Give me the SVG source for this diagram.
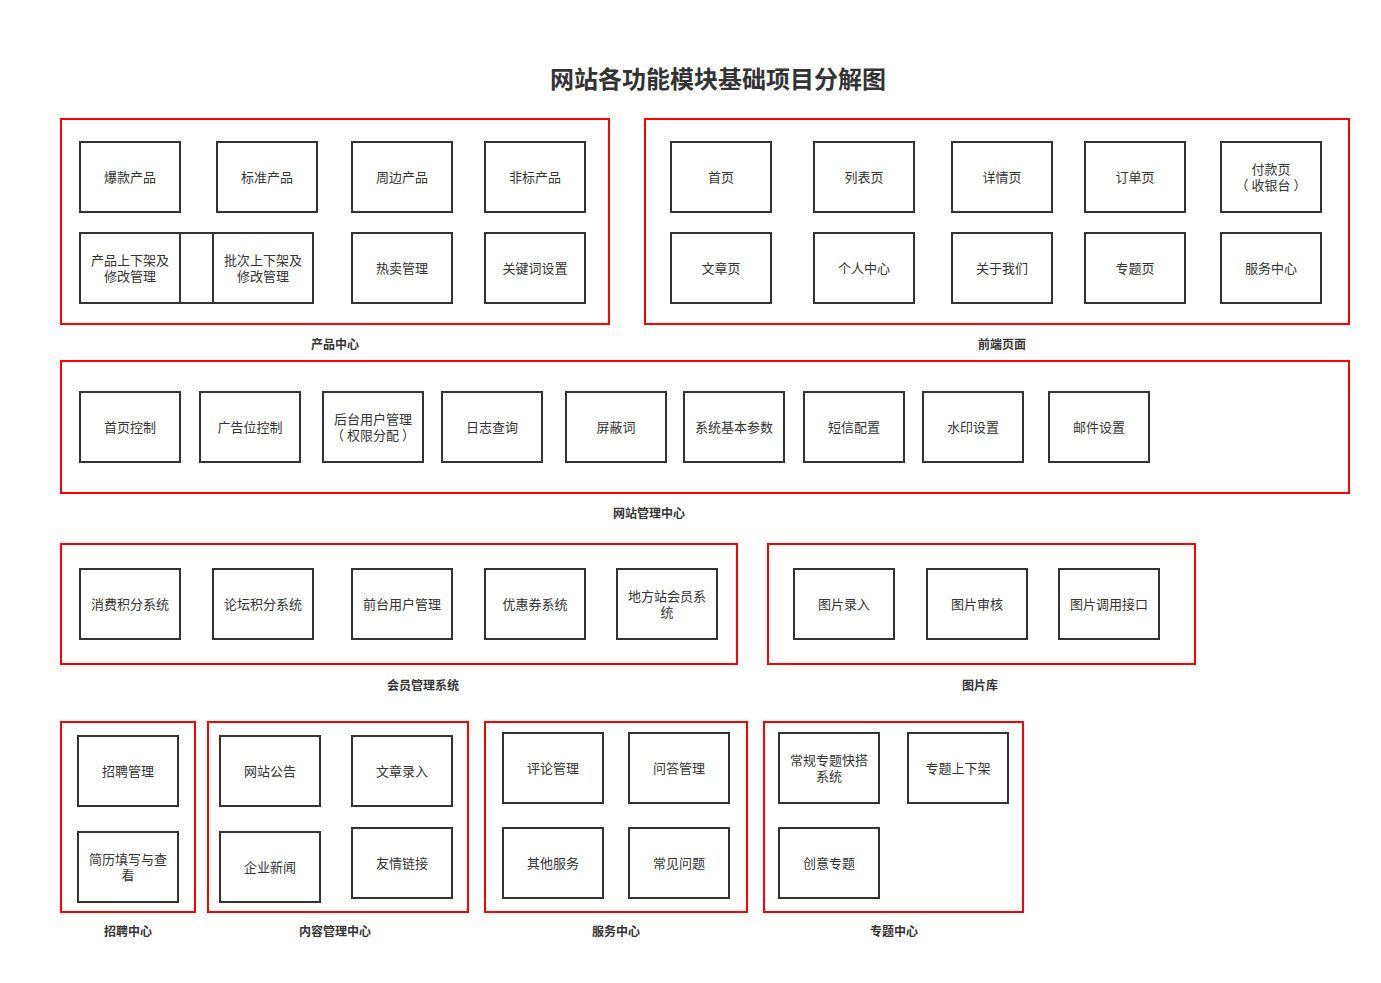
<svg xmlns="http://www.w3.org/2000/svg" width="1381" height="983" viewBox="0 0 1381 983">
<style>
.c{fill:none;stroke:#ff0000;stroke-width:2}
.b{fill:#fff;stroke:#333;stroke-width:2}
.t{font-family:"Noto Sans CJK SC","Noto Sans",sans-serif;font-size:13px;fill:#333;text-anchor:middle;dominant-baseline:central}
.l{font-family:"Noto Sans CJK SC","Noto Sans",sans-serif;font-size:12px;font-weight:bold;fill:#333;text-anchor:middle;dominant-baseline:central}
.h{font-family:"Noto Sans CJK SC","Noto Sans",sans-serif;font-size:24px;font-weight:bold;fill:#333;text-anchor:middle;dominant-baseline:central}
</style>
<rect width="1381" height="983" fill="#fff"/>
<text class="h" x="718" y="77">网站各功能模块基础项目分解图</text>

<g id="grp-product">
<rect class="c" x="61" y="119" width="548" height="205"/>
<text class="l" x="335" y="343">产品中心</text>
<g id="n-baokuan"><rect class="b" x="80" y="142" width="100" height="70"/><text class="t" x="130" y="176">爆款产品</text></g>
<g id="n-biaozhun"><rect class="b" x="217" y="142" width="100" height="70"/><text class="t" x="267" y="176">标准产品</text></g>
<g id="n-zhoubian"><rect class="b" x="352" y="142" width="100" height="70"/><text class="t" x="402" y="176">周边产品</text></g>
<g id="n-feibiao"><rect class="b" x="485" y="142" width="100" height="70"/><text class="t" x="535" y="176">非标产品</text></g>
<g id="n-blank"><rect class="b" x="180" y="233" width="33" height="70"/></g>
<g id="n-shangxia"><rect class="b" x="80" y="233" width="100" height="70"/><text class="t" x="130" y="259"><tspan x="130" y="259">产品上下架及</tspan><tspan x="130" y="275">修改管理</tspan></text></g>
<g id="n-piliang"><rect class="b" x="213" y="233" width="100" height="70"/><text class="t" x="263" y="259"><tspan x="263" y="259">批次上下架及</tspan><tspan x="263" y="275">修改管理</tspan></text></g>
<g id="n-remai"><rect class="b" x="352" y="233" width="100" height="70"/><text class="t" x="402" y="267">热卖管理</text></g>
<g id="n-guanjianci"><rect class="b" x="485" y="233" width="100" height="70"/><text class="t" x="535" y="267">关键词设置</text></g>
</g>

<g id="grp-front">
<rect class="c" x="645" y="119" width="704" height="205"/>
<text class="l" x="1002" y="343">前端页面</text>
<g id="n-shouye"><rect class="b" x="671" y="142" width="100" height="70"/><text class="t" x="721" y="176">首页</text></g>
<g id="n-liebiao"><rect class="b" x="814" y="142" width="100" height="70"/><text class="t" x="864" y="176">列表页</text></g>
<g id="n-xiangqing"><rect class="b" x="952" y="142" width="100" height="70"/><text class="t" x="1002" y="176">详情页</text></g>
<g id="n-dingdan"><rect class="b" x="1085" y="142" width="100" height="70"/><text class="t" x="1135" y="176">订单页</text></g>
<g id="n-fukuan"><rect class="b" x="1221" y="142" width="100" height="70"/><text class="t" x="1271" y="168"><tspan x="1271" y="168">付款页</tspan><tspan x="1271" y="184">（ 收银台 ）</tspan></text></g>
<g id="n-wenzhang"><rect class="b" x="671" y="233" width="100" height="70"/><text class="t" x="721" y="267">文章页</text></g>
<g id="n-geren"><rect class="b" x="814" y="233" width="100" height="70"/><text class="t" x="864" y="267">个人中心</text></g>
<g id="n-guanyu"><rect class="b" x="952" y="233" width="100" height="70"/><text class="t" x="1002" y="267">关于我们</text></g>
<g id="n-zhuanti"><rect class="b" x="1085" y="233" width="100" height="70"/><text class="t" x="1135" y="267">专题页</text></g>
<g id="n-fuwu"><rect class="b" x="1221" y="233" width="100" height="70"/><text class="t" x="1271" y="267">服务中心</text></g>
</g>

<g id="grp-admin">
<rect class="c" x="61" y="361" width="1288" height="132"/>
<text class="l" x="649" y="512">网站管理中心</text>
<g id="n-sykz"><rect class="b" x="80" y="392" width="100" height="70"/><text class="t" x="130" y="426">首页控制</text></g>
<g id="n-ggw"><rect class="b" x="200" y="392" width="100" height="70"/><text class="t" x="250" y="426">广告位控制</text></g>
<g id="n-htyh"><rect class="b" x="323" y="392" width="100" height="70"/><text class="t" x="373" y="418"><tspan x="373" y="418">后台用户管理</tspan><tspan x="373" y="434">（ 权限分配 ）</tspan></text></g>
<g id="n-rizhi"><rect class="b" x="442" y="392" width="100" height="70"/><text class="t" x="492" y="426">日志查询</text></g>
<g id="n-pingbi"><rect class="b" x="566" y="392" width="100" height="70"/><text class="t" x="616" y="426">屏蔽词</text></g>
<g id="n-xitong"><rect class="b" x="684" y="392" width="100" height="70"/><text class="t" x="734" y="426">系统基本参数</text></g>
<g id="n-duanxin"><rect class="b" x="804" y="392" width="100" height="70"/><text class="t" x="854" y="426">短信配置</text></g>
<g id="n-shuiyin"><rect class="b" x="923" y="392" width="100" height="70"/><text class="t" x="973" y="426">水印设置</text></g>
<g id="n-youjian"><rect class="b" x="1049" y="392" width="100" height="70"/><text class="t" x="1099" y="426">邮件设置</text></g>
</g>

<g id="grp-member">
<rect class="c" x="61" y="544" width="676" height="120"/>
<text class="l" x="423" y="684">会员管理系统</text>
<g id="n-xiaofei"><rect class="b" x="80" y="569" width="100" height="70"/><text class="t" x="130" y="603">消费积分系统</text></g>
<g id="n-luntan"><rect class="b" x="213" y="569" width="100" height="70"/><text class="t" x="263" y="603">论坛积分系统</text></g>
<g id="n-qiantai"><rect class="b" x="352" y="569" width="100" height="70"/><text class="t" x="402" y="603">前台用户管理</text></g>
<g id="n-youhui"><rect class="b" x="485" y="569" width="100" height="70"/><text class="t" x="535" y="603">优惠券系统</text></g>
<g id="n-difang"><rect class="b" x="617" y="569" width="100" height="70"/><text class="t" x="667" y="595"><tspan x="667" y="595">地方站会员系</tspan><tspan x="667" y="611">统</tspan></text></g>
</g>

<g id="grp-image">
<rect class="c" x="768" y="544" width="427" height="120"/>
<text class="l" x="980" y="684">图片库</text>
<g id="n-tplr"><rect class="b" x="794" y="569" width="100" height="70"/><text class="t" x="844" y="603">图片录入</text></g>
<g id="n-tpsh"><rect class="b" x="927" y="569" width="100" height="70"/><text class="t" x="977" y="603">图片审核</text></g>
<g id="n-tpdy"><rect class="b" x="1059" y="569" width="100" height="70"/><text class="t" x="1109" y="603">图片调用接口</text></g>
</g>

<g id="grp-recruit">
<rect class="c" x="61" y="722" width="134" height="190"/>
<text class="l" x="128" y="930">招聘中心</text>
<g id="n-zhaopin"><rect class="b" x="78" y="736" width="100" height="70"/><text class="t" x="128" y="770">招聘管理</text></g>
<g id="n-jianli"><rect class="b" x="78" y="832" width="100" height="70"/><text class="t" x="128" y="858"><tspan x="128" y="858">简历填写与查</tspan><tspan x="128" y="874">看</tspan></text></g>
</g>

<g id="grp-content">
<rect class="c" x="208" y="722" width="260" height="190"/>
<text class="l" x="335" y="930">内容管理中心</text>
<g id="n-gonggao"><rect class="b" x="220" y="736" width="100" height="70"/><text class="t" x="270" y="770">网站公告</text></g>
<g id="n-wzlr"><rect class="b" x="352" y="736" width="100" height="70"/><text class="t" x="402" y="770">文章录入</text></g>
<g id="n-qiye"><rect class="b" x="220" y="832" width="100" height="70"/><text class="t" x="270" y="866">企业新闻</text></g>
<g id="n-youqing"><rect class="b" x="352" y="828" width="100" height="70"/><text class="t" x="402" y="862">友情链接</text></g>
</g>

<g id="grp-service">
<rect class="c" x="485" y="722" width="262" height="190"/>
<text class="l" x="616" y="930">服务中心</text>
<g id="n-pinglun"><rect class="b" x="503" y="733" width="100" height="70"/><text class="t" x="553" y="767">评论管理</text></g>
<g id="n-wenda"><rect class="b" x="629" y="733" width="100" height="70"/><text class="t" x="679" y="767">问答管理</text></g>
<g id="n-qita"><rect class="b" x="503" y="828" width="100" height="70"/><text class="t" x="553" y="862">其他服务</text></g>
<g id="n-changjian"><rect class="b" x="629" y="828" width="100" height="70"/><text class="t" x="679" y="862">常见问题</text></g>
</g>

<g id="grp-topic">
<rect class="c" x="764" y="722" width="259" height="190"/>
<text class="l" x="894" y="930">专题中心</text>
<g id="n-changgui"><rect class="b" x="779" y="733" width="100" height="70"/><text class="t" x="829" y="759"><tspan x="829" y="759">常规专题快搭</tspan><tspan x="829" y="775">系统</tspan></text></g>
<g id="n-ztsx"><rect class="b" x="908" y="733" width="100" height="70"/><text class="t" x="958" y="767">专题上下架</text></g>
<g id="n-chuangyi"><rect class="b" x="779" y="828" width="100" height="70"/><text class="t" x="829" y="862">创意专题</text></g>
</g>

<g id="connectors"></g>
</svg>
